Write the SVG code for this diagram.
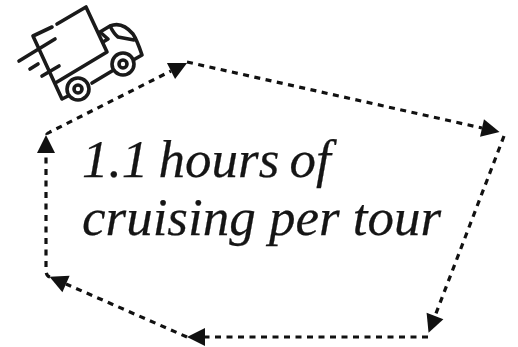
<svg xmlns="http://www.w3.org/2000/svg" width="518" height="347" viewBox="0 0 518 347">
<defs>
<marker id="a" markerUnits="userSpaceOnUse" markerWidth="20" markerHeight="20" refX="0" refY="9" orient="auto" overflow="visible"><path d="M0 0L18 9L0 18Z" fill="#111"/></marker>
</defs>
<style>
.d{fill:none;stroke:#111;stroke-width:3.2;stroke-dasharray:6 5.5}
.t{fill:none;stroke:#1a1a1a;stroke-width:3.6;stroke-linecap:round;stroke-linejoin:round}
.x{font-family:"Liberation Serif",serif;font-style:italic;font-size:53px;fill:#151515;stroke:#151515;stroke-width:.25}
</style>
<g id="connectors">
<path class="d" d="M46 133Q47 134 50 132L171 71" marker-end="url(#a)"/>
<path class="d" d="M187 62L482 128" marker-end="url(#a)"/>
<path class="d" d="M504 136L435 316" marker-end="url(#a)"/>
<path class="d" d="M428 337L205 337" marker-end="url(#a)"/>
<path class="d" d="M187 337L66 284" marker-end="url(#a)"/>
<path class="d" d="M50 277Q46 276 46 270L46 153" marker-end="url(#a)"/>
</g>
<g id="truck">
<path class="t" d="M52 27L33 36L62 99L68 96M57 24L86 7L107 52L57 82"/>
<path class="t" d="M19 61L55 39M30 69L38 64M42 76L59 66"/>
<path class="t" d="M100 32L110 26Q122 21 133 34Q137 40 142 55L135 59M103 42L108 39L100 32M110 26Q114 34 118 37L134 40M92 83L112 71"/>
<circle class="t" cx="78" cy="89" r="11"/><circle class="t" cx="78" cy="89" r="4"/>
<circle class="t" cx="123" cy="64" r="11"/><circle class="t" cx="123" cy="64" r="4"/>
</g>
<g id="label">
<text class="x" x="82" y="177" word-spacing="-3">1.1 hours of</text>
<text class="x" x="82" y="235">cruising per tour</text>
</g>
</svg>
